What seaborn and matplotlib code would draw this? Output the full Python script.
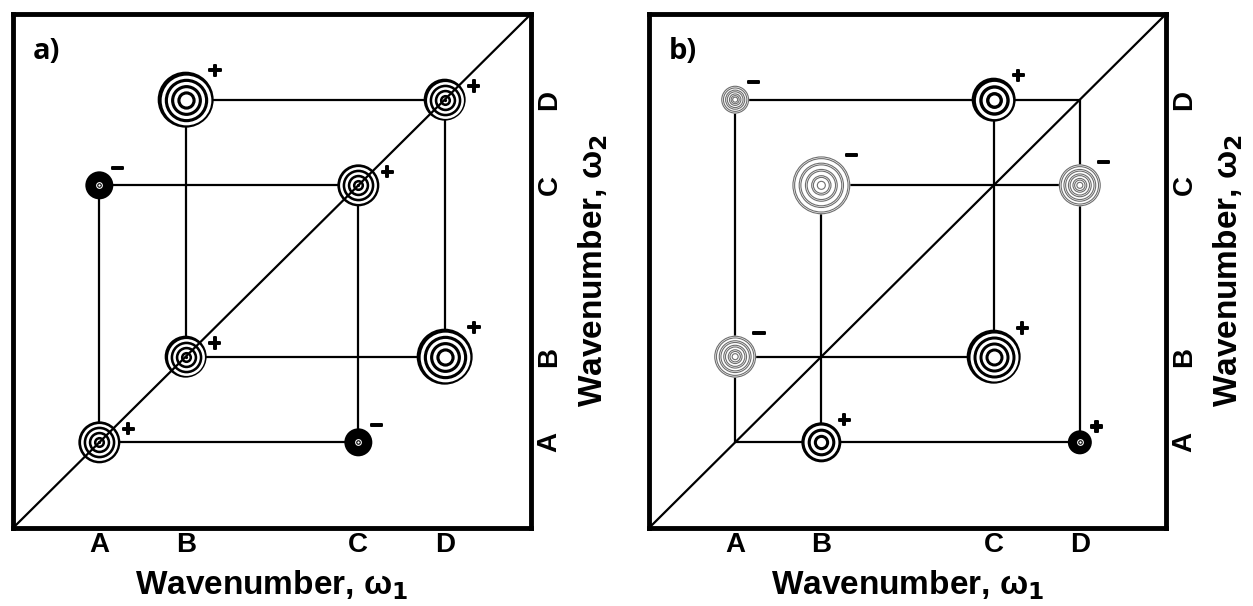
import numpy as np
import pandas as pd
import matplotlib
matplotlib.use("Agg")
import matplotlib.pyplot as plt
import matplotlib.patheffects as pe
import seaborn as sns

# ---------------- data ----------------
tick_labels = ["A", "B", "C", "D"]
tick_values = [1, 2, 4, 5]          # relative wavenumbers of modes A-D
axis_max = 6

# panel a : peaks (w1, w2), sign, peak type, relative peak width
a_w1 = ["A", "B", "C", "D", "B", "D", "A", "C"]
a_w2 = ["A", "B", "C", "D", "D", "B", "C", "A"]
a_sign = ["+", "+", "+", "+", "+", "+", "\u2212", "\u2212"]
a_type = ["diag", "diag", "diag", "diag", "cross", "cross", "neg", "neg"]
a_width = [21, 21, 21, 21, 28, 28, 14, 14]
a_links = [("B", "D", "D", "D"), ("B", "D", "B", "B"), ("A", "C", "C", "C"),
           ("A", "C", "A", "A"), ("B", "B", "D", "B"), ("D", "D", "D", "B"),
           ("A", "A", "C", "A"), ("C", "C", "C", "A")]

# panel b
b_w1 = ["A", "C", "B", "D", "A", "C", "B", "D"]
b_w2 = ["D", "D", "C", "C", "B", "B", "A", "A"]
b_sign = ["\u2212", "+", "\u2212", "\u2212", "\u2212", "+", "+", "+"]
b_type = ["gray", "cross", "gray", "gray", "gray", "cross", "cross", "neg"]
b_width = [14, 22, 29, 21, 21, 27, 20, 12]
b_links = [("A", "D", "D", "D"), ("A", "D", "A", "A"), ("B", "C", "D", "C"),
           ("D", "D", "D", "A"), ("C", "D", "C", "B"), ("B", "C", "B", "A"),
           ("A", "B", "C", "B"), ("A", "A", "D", "A")]

# ---------------- style ----------------
sns.set_theme(style="white")
plt.rcParams["font.family"] = ["Liberation Sans", "DejaVu Sans"]
plt.rcParams["font.weight"] = "bold"
plt.rcParams["mathtext.fontset"] = "dejavusans"
for key in ["text.color", "axes.labelcolor", "xtick.color", "ytick.color"]:
    plt.rcParams[key] = "black"

DPI = 100
fig = plt.figure(figsize=(12.53, 6.06), dpi=DPI)
W, H = 1253, 606
ax_a = fig.add_axes([13 / W, 78 / H, 518 / W, 514 / H])
ax_b = fig.add_axes([649 / W, 78 / H, 517 / W, 514 / H])

pos = dict(zip(tick_labels, tick_values))
GRAY = "#6e6e6e"


def area(r_px):
    return (2 * r_px * 72.0 / DPI) ** 2


def ring_spec(kind, R):
    if kind == "diag":
        return 4, 3.0
    if kind == "cross":
        return (4, 6.0) if R >= 25 else (3, 0.23 * R)
    if kind == "gray":
        return (4, 4.0) if R >= 25 else ((3, 2.5) if R < 16 else (4, 3.0))
    return None


def draw_panel(ax, w1, w2, signs, types, widths, links, letter):
    # connecting lines
    rows = []
    for i, (x1, y1, x2, y2) in enumerate(links):
        rows.append({"x": pos[x1], "y": pos[y1], "link": i})
        rows.append({"x": pos[x2], "y": pos[y2], "link": i})
    ldf = pd.DataFrame(rows)
    sns.lineplot(data=ldf, x="x", y="y", units="link", estimator=None,
                 sort=False, color="black", linewidth=1.6, ax=ax, zorder=2)

    # peaks: outer layer with seaborn
    pdf = pd.DataFrame({"x": [pos[v] for v in w1], "y": [pos[v] for v in w2],
                        "type": types, "width": widths})
    pdf["base"] = np.where(pdf["type"] == "gray", "white", "black")
    sizes = {w: area(w) for w in sorted(set(widths))}
    sns.scatterplot(data=pdf, x="x", y="y", hue="base",
                    palette={"white": "white", "black": "black"},
                    size="width", sizes=sizes, linewidth=0, legend=False,
                    ax=ax, zorder=3)

    # inner rings
    for x, y, kind, R in zip(pdf["x"], pdf["y"], types, widths):
        if kind == "neg":
            for r, col in [(3.4, "white"), (2.3, "black"), (1.2, "white")]:
                ax.scatter([x], [y], s=area(r), c=col, linewidths=0, zorder=4)
            continue
        n, c = ring_spec(kind, R)
        if kind == "gray":
            pitch = (R - c) / n
            for k in range(n):
                r_out = R - k * pitch - 0.6
                for r in (r_out, r_out - 1.7):
                    ax.scatter([x], [y], s=area(r), facecolors="none",
                               edgecolors=GRAY, linewidths=0.8, zorder=4)
            ax.scatter([x], [y], s=area(c), facecolors="none",
                       edgecolors=GRAY, linewidths=0.8, zorder=4)
            continue
        w = (R - c) / (2 * n - 1)
        for k in range(1, 2 * n - 1):
            col = "white" if k % 2 == 1 else "black"
            ax.scatter([x], [y], s=area(R - k * w), c=col, linewidths=0,
                       zorder=4)
        ax.scatter([x], [y], s=area(c), c="white", linewidths=0, zorder=4)
        if kind == "diag":
            ax.scatter([x], [y], s=area(1.6), c="black", linewidths=0,
                       zorder=4)

    # signs
    for x, y, kind, R, sg in zip(pdf["x"], pdf["y"], types, widths, signs):
        if kind == "diag":
            dx, dy = R + 8, 13
        else:
            dx, dy = 0.8 * R + 7, 0.85 * R + 5
        ax.annotate(sg, xy=(x, y), xytext=(dx * 0.72, dy * 0.72),
                    textcoords="offset points", ha="center", va="center",
                    fontsize=13, fontweight="bold", family="DejaVu Sans",
                    color="black", zorder=6,
                    path_effects=[pe.withStroke(linewidth=1.4,
                                                foreground="black")])

    # diagonal
    ax.plot([0, axis_max], [0, axis_max], color="black", linewidth=1.6,
            zorder=5)

    ax.set_xlim(0, axis_max)
    ax.set_ylim(0, axis_max)
    ax.set_xticks(tick_values, tick_labels)
    ax.set_yticks(tick_values, tick_labels)
    ax.yaxis.tick_right()
    ax.yaxis.set_label_position("right")
    ax.tick_params(axis="both", length=0, labelsize=20, labelcolor="black")
    ax.tick_params(axis="x", pad=3)
    ax.tick_params(axis="y", pad=4, labelrotation=90)
    for t in ax.get_yticklabels():
        t.set_va("center")
    ax.set_xlabel("Wavenumber, \u03c9$_\\mathbf{1}$", fontsize=24,
                  fontweight="bold", labelpad=7, color="black")
    ax.set_ylabel("Wavenumber, \u03c9$_\\mathbf{2}$", fontsize=24,
                  fontweight="bold", labelpad=10, color="black")
    for s in ax.spines.values():
        s.set_visible(True)
        s.set_linewidth(3.5)
        s.set_color("black")
    ax.set_facecolor("white")
    ax.grid(False)
    ax.text(0.038, 0.955, letter, transform=ax.transAxes, ha="left", va="top",
            fontsize=21, fontweight="bold", family="Open Sans",
            color="black", zorder=6)


draw_panel(ax_a, a_w1, a_w2, a_sign, a_type, a_width, a_links, "a)")
draw_panel(ax_b, b_w1, b_w2, b_sign, b_type, b_width, b_links, "b)")

fig.savefig("out.png", dpi=DPI, facecolor="white")
